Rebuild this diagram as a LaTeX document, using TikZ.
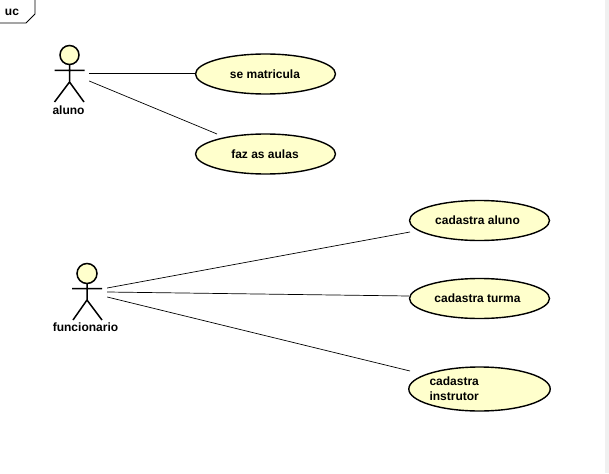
\documentclass[tikz,border=0pt]{standalone}
\usepackage{fontspec}
\setmainfont{Liberation Sans}
\usetikzlibrary{shapes.geometric}
\definecolor{ucfill}{HTML}{FFFFCC}
\definecolor{strip}{HTML}{F0F0F0}
\tikzset{
  uccase/.style={draw=black,fill=ucfill,ellipse,line width=1.4pt,inner sep=0pt,minimum width=140pt,minimum height=40pt,font=\fontsize{12}{15}\selectfont\bfseries,align=left},
  actorbox/.style={inner sep=0pt,minimum width=32pt,minimum height=1pt},
  limb/.style={draw=black,line width=1.5pt},
  assoc/.style={draw=black,line width=0.7pt},
  lab/.style={inner sep=0pt,font=\fontsize{12}{14}\selectfont\bfseries}
}
\begin{document}
\begin{tikzpicture}[x=1pt,y=-1pt]
\useasboundingbox (0,0) rectangle (609,473);
\fill[white] (0,0) rectangle (609,473);
\fill[strip] (605,0) rectangle (609,473);
% frame
\node[lab] (ucname) at (12,12) {uc};
\draw[line width=0.8pt] (0,23) -- (26,23) -- (35,14) -- (35,0);
% actors
\node[actorbox] (aluno) at (73,73) {};
\draw[limb,fill=ucfill] (69.5,55) circle (9.5);
\draw[limb] (54.5,70.5) -- (84.5,70.5) (69.5,64.5) -- (69.5,82) -- (54.5,102) (69.5,82) -- (84,102);
\node[lab] (alunolab) at (68.5,110) {aluno};
\node[actorbox] (func) at (91,292) {};
\draw[limb,fill=ucfill] (87,273.5) circle (10);
\draw[limb] (72,288.5) -- (102,288.5) (87,283.5) -- (87,300) -- (73,320) (87,300) -- (102,320);
\node[lab] (funclab) at (85.5,327.5) {funcionario};
% use cases
\node[uccase] (matr) at (265.5,74) {se matricula\kern1pt};
\node[uccase] (aulas) at (265.5,154) {faz as aulas\kern1pt};
\node[uccase] (caluno) at (479.5,220.5) {cadastra aluno\kern4pt};
\node[uccase] (cturma) at (479.5,298.5) {cadastra turma\kern4pt};
\node[uccase,minimum height=44pt,text width=100pt] (cinstr) at (479.5,389) {cadastra\\instrutor};
% connectors
\draw[assoc] (aluno.east) -- ([shift={(0,-1)}]matr.west);
\draw[assoc] ([shift={(0,8)}]aluno.east) -- ([shift={(-48.5,-20)}]aulas.center);
\draw[assoc] ([shift={(0,-4)}]func.east) -- ([shift={(-69.5,11.5)}]caluno.center);
\draw[assoc] (func.east) -- ([shift={(0,-2.5)}]cturma.west);
\draw[assoc] ([shift={(0,5)}]func.east) -- ([shift={(-69.5,-18)}]cinstr.center);
\end{tikzpicture}
\end{document}
